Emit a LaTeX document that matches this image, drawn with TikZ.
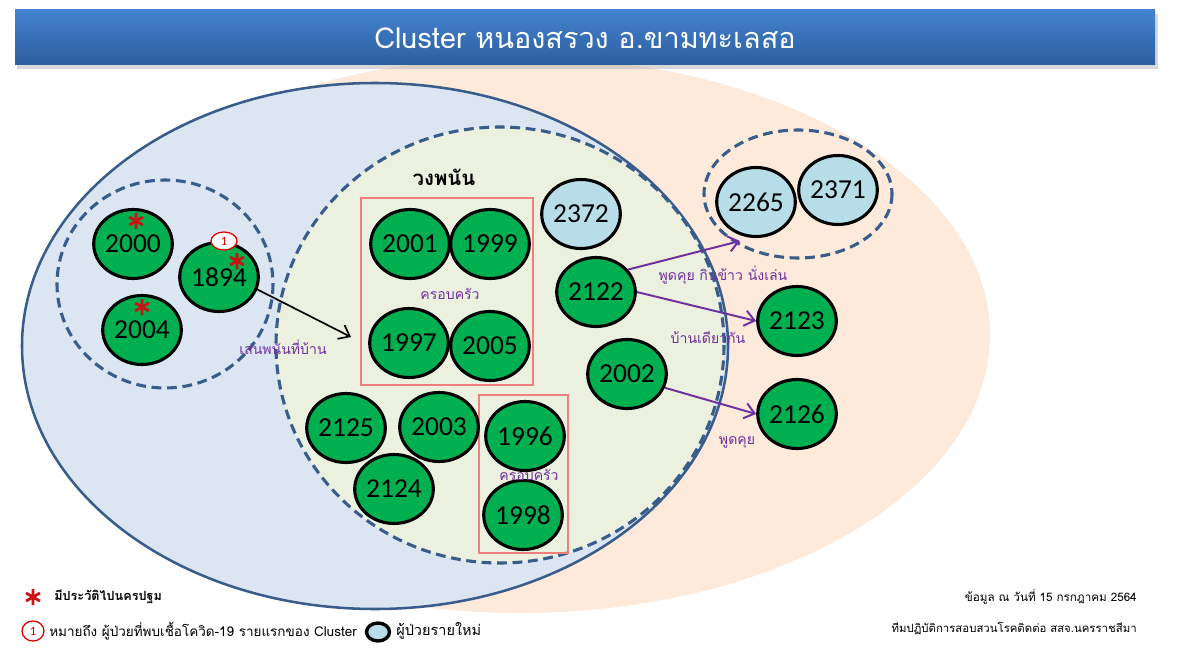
\documentclass[tikz,border=0pt]{standalone}
\usepackage{fontspec}
\setmainfont{Carlito}
\newfontfamily\thai[Script=Thai]{Loma}
\usepackage{tikz}
\usetikzlibrary{shapes.geometric,arrows.meta,positioning}
\definecolor{peach}{RGB}{253,234,218}
\definecolor{paleblue}{RGB}{220,230,242}
\definecolor{palegreen}{RGB}{235,241,222}
\definecolor{rimblue}{RGB}{56,93,138}
\definecolor{casegreen}{RGB}{0,176,80}
\definecolor{newblue}{RGB}{183,222,232}
\definecolor{boxred}{RGB}{240,128,128}
\definecolor{talkpurple}{RGB}{112,48,160}
\definecolor{starred}{RGB}{200,20,20}
\definecolor{bartop}{RGB}{68,130,208}
\definecolor{barbot}{RGB}{44,94,158}
\def\px{0.025cm}
\newcommand\redstar[1]{\draw[starline] #1 ++(0,-8) -- ++(0,16) #1 ++(30:8) -- ++(210:16) #1 ++(150:8) -- ++(330:16);}

\begin{document}
\begin{tikzpicture}[x=0.025cm,y=-0.025cm,
    case/.style={ellipse, draw=black, line width=2.2pt, fill=casegreen, inner sep=0pt,
        minimum width=75*\px, minimum height=69*\px, font=\fontsize{19.5}{19.5}\selectfont},
    newcase/.style={case, fill=newblue},
    ring/.style={draw=rimblue, line width=2.2pt, dash pattern=on 7pt off 4pt},
    famibox/.style={draw=boxred, line width=1.8pt},
    talk/.style={text=talkpurple, font=\thai\fontsize{10}{12}\selectfont, inner sep=1pt},
    tie/.style={draw=talkpurple, line width=1.4pt, -{Straight Barb[length=7pt,width=11pt]}},
    spread/.style={draw=black, line width=1.2pt, -{Straight Barb[length=7pt,width=11pt]}},
    starline/.style={draw=starred, line width=2pt},
    firstbadge/.style={ellipse, draw=red!85!black, fill=white, line width=0.9pt, inner sep=0pt,
        minimum width=26*\px, minimum height=18*\px, text=red!85!black, font=\fontsize{9}{9}\selectfont},
    legtext/.style={font=\thai\fontsize{10}{12}\selectfont, inner sep=0pt}]
    \useasboundingbox (0,0) rectangle (1200,663);
    %Background areas
    \fill[peach] (520,335) ellipse [x radius=470, y radius=278];
    \filldraw[fill=paleblue, draw=rimblue, line width=1.8pt] (375,346) ellipse [x radius=353, y radius=263];
    \filldraw[fill=palegreen, ring] (500,345) ellipse [x radius=224, y radius=218];
    \draw[ring] (165,284) ellipse [x radius=108, y radius=104];
    \draw[ring] (798,194) ellipse [x radius=94, y radius=64];
    %Title bar
    \fill[black!30, opacity=0.5] (17,14) rectangle (1158,69);
    \shade[top color=bartop, bottom color=barbot] (15,10) rectangle (1155,65);
    \node[text=white, font=\thai\fontsize{20.5}{21}\selectfont] (title) at (585,38) {Cluster หนองสรวง อ.ขามทะเลสอ};
    %Family boxes
    \draw[famibox] (361,198) rectangle (533,385);
    \draw[famibox] (479,395) rectangle (568,553);
    %Cases
    \node[case] (n2000) at (133,244) {2000};
    \node[case] (n1894) at (219,277) {1894};
    \node[case] (n2004) at (142,330) {2004};
    \node[case] (n2001) at (410,244) {2001};
    \node[case] (n1999) at (490,244) {1999};
    \node[case] (n1997) at (409,343) {1997};
    \node[case] (n2005) at (490,346) {2005};
    \node[newcase] (n2372) at (581,214) {2372};
    \node[case] (n2122) at (596,292) {2122};
    \node[case] (n2002) at (627,374) {2002};
    \node[case] (n2125) at (346,428) {2125};
    \node[case] (n2003) at (439,427) {2003};
    \node[case] (n2124) at (394,489) {2124};
    \node[case] (n1996) at (525,436) {1996};
    \node[case] (n1998) at (523,515) {1998};
    \node[newcase] (n2265) at (756,202) {2265};
    \node[newcase] (n2371) at (838,190) {2371};
    \node[case] (n2123) at (797,321) {2123};
    \node[case] (n2126) at (797,414) {2126};
    %Marks
    \redstar{(136,221)}
    \redstar{(237,261)}
    \redstar{(142,307)}
    \node[firstbadge] (badge) at (224,241) {1};
    %Links
    \coordinate (gambhome) at (351,337);
    \coordinate (pairedge) at (740,241);
    \draw[spread] (n1894.-18) -- (gambhome);
    \draw[tie] (n2122.35) -- (pairedge);
    \draw[tie] (n2122.east) -- (n2123.west);
    \draw[tie] (n2002.-20) -- (n2126.west);
    %Labels
    \node[font=\thai\bfseries\fontsize{14.5}{16}\selectfont] (gamblers) at (444,177) {วงพนัน};
    \node[talk] (fam1) at (450,294) {ครอบครัว};
    \node[talk] (fam2) at (529,475) {ครอบครัว};
    \node[talk] (athome) at (283,347) {เล่นพนันที่บ้าน};
    \node[talk] (chat1) at (723,275) {พูดคุย กินข้าว นั่งเล่น};
    \node[talk] (samehouse) at (708,338) {บ้านเดียวกัน};
    \node[talk] (chat2) at (737,442) {พูดคุย};
    %Legend
    \redstar{(33,597)}
    \node[legtext, anchor=west, font=\thai\bfseries\fontsize{9}{12}\selectfont] (legstar) at (54,597) {มีประวัติไปนครปฐม};
    \node[firstbadge, minimum width=22*\px, minimum height=20*\px] (legbadge) at (33,631) {1};
    \node[legtext, anchor=west, font=\thai\fontsize{9.6}{12}\selectfont] (legfirst) at (49,631) {หมายถึง ผู้ป่วยที่พบเชื้อโควิด-19 รายแรกของ Cluster};
    \node[ellipse, draw=black, fill=newblue, line width=2.4pt, inner sep=0pt,
        minimum width=23*\px, minimum height=18*\px] (legnew) at (378,632) {};
    \node[legtext, anchor=west, font=\thai\fontsize{10.3}{12}\selectfont] (legnewtext) at (396,631) {ผู้ป่วยรายใหม่};
    \node[legtext, anchor=east, font=\thai\fontsize{8.3}{11}\selectfont] (asof) at (1137,597) {ข้อมูล ณ วันที่ 15 กรกฎาคม 2564};
    \node[legtext, anchor=east, font=\thai\fontsize{8.1}{11}\selectfont] (team) at (1137,629) {ทีมปฏิบัติการสอบสวนโรคติดต่อ สสจ.นครราชสีมา};
\end{tikzpicture}
\end{document}
